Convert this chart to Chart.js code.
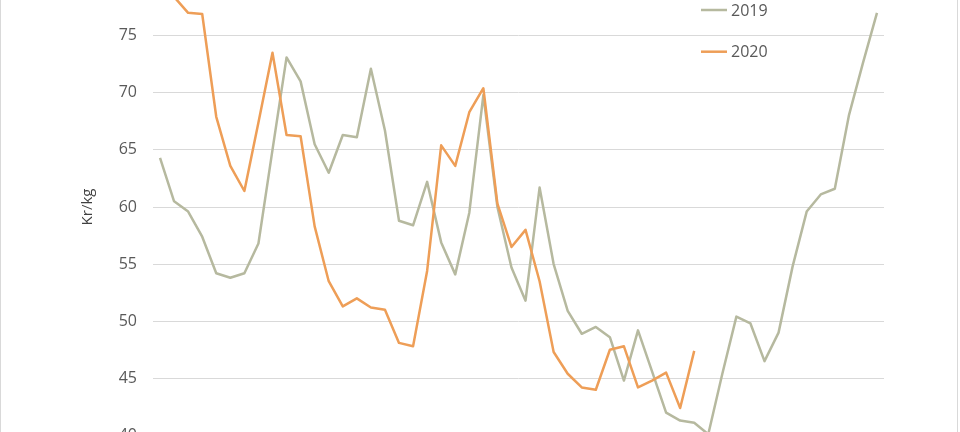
<!DOCTYPE html>
<html>
<head>
<meta charset="utf-8">
<script src="https://cdn.jsdelivr.net/npm/chart.js@4"></script>
<style>
  html, body { margin: 0; padding: 0; background: #ffffff; overflow: hidden; }
  body { width: 960px; height: 432px; position: relative; }
  #wrap { position: absolute; left: 0; top: -47px; width: 960px; height: 508px; }
  .frame { position: absolute; top: 0; width: 1px; height: 432px; background: #d9d9d9; }
</style>
</head>
<body>
<div id="wrap"><canvas id="c"></canvas></div>
<div class="frame" style="left:0px"></div>
<div class="frame" style="left:957px"></div>
<script>
const weeks = ['1','2','3','4','5','6','7','8','9','10','11','12','13','14','15','16','17','18','19','20',
  '21','22','23','24','25','26','27','28','29','30','31','32','33','34','35','36','37','38','39','40',
  '41','42','43','44','45','46','47','48','49','50','51','52'];

const values2019 = [64.3, 60.5, 59.6, 57.4, 54.2, 53.8, 54.2, 56.8, 65.0, 73.1,
  71.0, 65.5, 63.0, 66.3, 66.1, 72.1, 66.7, 58.8, 58.4, 62.2,
  56.9, 54.1, 59.5, 69.8, 60.0, 54.7, 51.8, 61.7, 55.0, 50.9,
  48.9, 49.5, 48.6, 44.8, 49.2, 45.6, 42.0, 41.3, 41.1, 40.1,
  45.4, 50.4, 49.8, 46.5, 49.0, 54.8, 59.6, 61.1, 61.6, 68.0,
  72.6, 77.0];

const values2020 = [79.5, 78.4, 77.0, 76.9, 67.9, 63.6, 61.4, 67.4, 73.5, 66.3,
  66.2, 58.3, 53.5, 51.3, 52.0, 51.2, 51.0, 48.1, 47.8, 54.4,
  65.4, 63.6, 68.3, 70.4, 60.3, 56.5, 58.0, 53.5, 47.3, 45.4,
  44.2, 44.0, 47.5, 47.8, 44.2, 44.8, 45.5, 42.4, 47.4];

const seriesNames = ['2019', '2020'];
const yTicks = [40, 45, 50, 55, 60, 65, 70, 75, 80];
const yTitle = 'Kr/kg';

const FONT = "'Open Sans', 'Liberation Sans', sans-serif";

const legendPlugin = {
  id: 'sideLegend',
  afterDraw(chart, args, opts) {
    const ctx = chart.ctx;
    ctx.save();
    chart.data.datasets.forEach((ds, i) => {
      const y = opts.y0 + i * opts.gap;
      ctx.strokeStyle = ds.borderColor;
      ctx.lineWidth = 2.5;
      ctx.beginPath();
      ctx.moveTo(opts.x0, y);
      ctx.lineTo(opts.x0 + opts.len, y);
      ctx.stroke();
      ctx.fillStyle = '#595959';
      ctx.font = "16px " + FONT;
      ctx.textAlign = 'left';
      ctx.textBaseline = 'middle';
      ctx.fillText(ds.label, opts.x0 + opts.len + 4, y + 1);
    });
    ctx.restore();
  }
};

new Chart(document.getElementById('c'), {
  type: 'line',
  data: {
    labels: weeks,
    datasets: [
      { label: seriesNames[0], data: values2019, borderColor: '#b6b99f', backgroundColor: '#b6b99f',
        borderWidth: 2.5, pointRadius: 0, tension: 0, borderJoinStyle: 'round', order: 1 },
      { label: seriesNames[1], data: values2020, borderColor: '#ee9e57', backgroundColor: '#ee9e57',
        borderWidth: 2.5, pointRadius: 0, tension: 0, borderJoinStyle: 'round', order: 0 }
    ]
  },
  options: {
    responsive: true,
    maintainAspectRatio: false,
    devicePixelRatio: 1,
    animation: false,
    layout: { padding: { left: 0, right: 76, top: 18, bottom: 15 } },
    plugins: {
      legend: { display: false },
      tooltip: { enabled: false },
      sideLegend: { x0: 701, len: 26, y0: 57, gap: 41.7 }
    },
    scales: {
      x: { type: 'category', display: false, offset: true },
      y: {
        min: 40, max: 80,
        afterBuildTicks: (scale) => { scale.ticks = yTicks.map(v => ({ value: v })); },
        afterFit: (scale) => { scale.width = 153; },
        border: { display: false },
        grid: { color: '#d9d9d9', lineWidth: 1, drawTicks: false },
        ticks: { padding: 16, color: '#595959', font: { family: FONT, size: 16 } },
        title: { display: true, text: yTitle, color: '#404040', padding: { top: 79, bottom: 0 },
                 font: { family: FONT, size: 15 } }
      }
    }
  },
  plugins: [legendPlugin]
});
</script>
</body>
</html>
